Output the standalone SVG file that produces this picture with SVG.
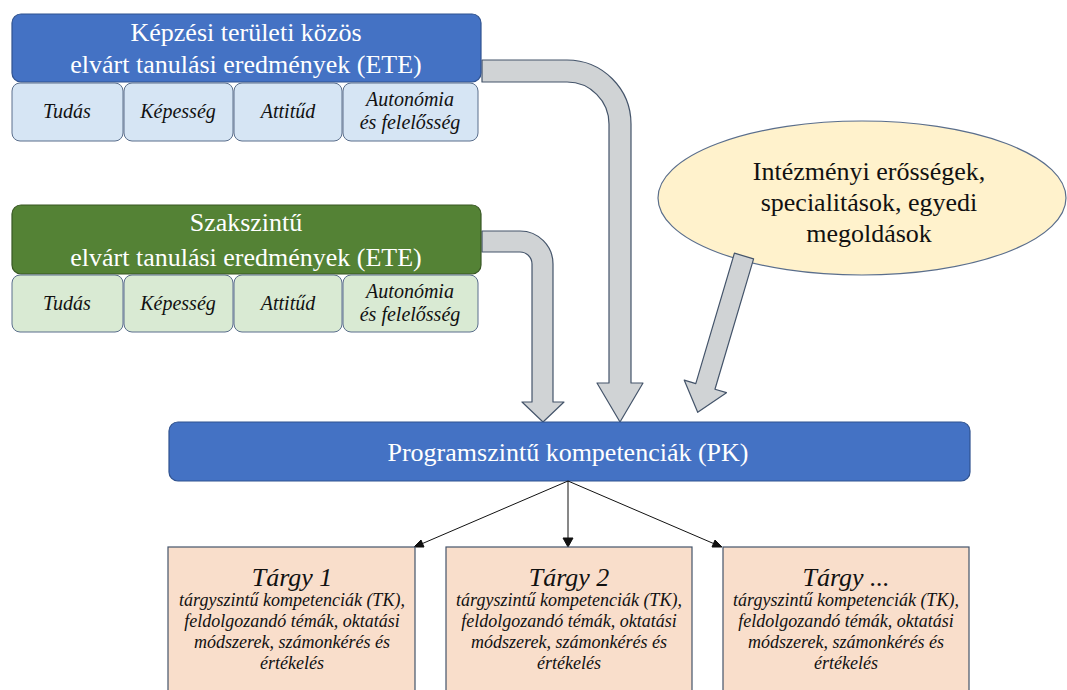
<svg xmlns="http://www.w3.org/2000/svg" width="1067" height="690" viewBox="0 0 1067 690">
  <rect width="1067" height="690" fill="#FFFFFF"/>

  <!-- broad grey flow arrows -->
  <g id="flows" fill="#D0D3D5" stroke="#44546A" stroke-width="1.2" stroke-linejoin="round">
    <path d="M482,60 H567 A64,64 0 0 1 631,124 V383 H643 L620,422 L597,383 H609 V124 A42,42 0 0 0 567,82 H482 Z"/>
    <path d="M482,231 H520 A33,33 0 0 1 553,264 V402 H564 L543,422 L522,402 H532 V264 A12,12 0 0 0 520,252 H482 Z"/>
  </g>

  <!-- training-area outcomes -->
  <g id="node-kepzesi">
    <rect x="12" y="14" width="469" height="68" rx="9" fill="#4472C4" stroke="#2F528F" stroke-width="1.2"/>
    <text x="246" y="41" font-family="Liberation Serif, DejaVu Serif, serif" font-size="26" fill="#FFFFFF" text-anchor="middle">Képzési területi közös</text>
    <text x="246" y="73" font-family="Liberation Serif, DejaVu Serif, serif" font-size="26" fill="#FFFFFF" text-anchor="middle">elvárt tanulási eredmények (ETE)</text>
  </g>
  <g id="node-kepzesi-items">
    <g fill="#D6E5F4" stroke="#5A6E8C" stroke-width="1">
      <rect x="12" y="83" width="111" height="58" rx="8"/>
      <rect x="124" y="83" width="109" height="58" rx="8"/>
      <rect x="234" y="83" width="108" height="58" rx="8"/>
      <rect x="343" y="83" width="135" height="58" rx="8"/>
    </g>
    <text x="67" y="118" font-family="Liberation Serif, DejaVu Serif, serif" font-style="italic" font-size="20" fill="#111" text-anchor="middle">Tudás</text>
    <text x="178" y="118" font-family="Liberation Serif, DejaVu Serif, serif" font-style="italic" font-size="20" fill="#111" text-anchor="middle">Képesség</text>
    <text x="288" y="118" font-family="Liberation Serif, DejaVu Serif, serif" font-style="italic" font-size="20" fill="#111" text-anchor="middle">Attitűd</text>
    <text x="410" y="106" font-family="Liberation Serif, DejaVu Serif, serif" font-style="italic" font-size="20" fill="#111" text-anchor="middle">Autonómia</text>
    <text x="410" y="129" font-family="Liberation Serif, DejaVu Serif, serif" font-style="italic" font-size="20" fill="#111" text-anchor="middle">és felelősség</text>
  </g>

  <!-- discipline-level outcomes -->
  <g id="node-szakszintu">
    <rect x="12" y="205" width="469" height="69" rx="9" fill="#548235" stroke="#385723" stroke-width="1.2"/>
    <text x="246" y="231" font-family="Liberation Serif, DejaVu Serif, serif" font-size="26" fill="#FFFFFF" text-anchor="middle">Szakszintű</text>
    <text x="246" y="266" font-family="Liberation Serif, DejaVu Serif, serif" font-size="26" fill="#FFFFFF" text-anchor="middle">elvárt tanulási eredmények (ETE)</text>
  </g>
  <g id="node-szakszintu-items">
    <g fill="#D9EAD3" stroke="#5A6E8C" stroke-width="1">
      <rect x="12" y="275" width="111" height="57" rx="8"/>
      <rect x="124" y="275" width="109" height="57" rx="8"/>
      <rect x="234" y="275" width="108" height="57" rx="8"/>
      <rect x="343" y="275" width="135" height="57" rx="8"/>
    </g>
    <text x="67" y="310" font-family="Liberation Serif, DejaVu Serif, serif" font-style="italic" font-size="20" fill="#111" text-anchor="middle">Tudás</text>
    <text x="178" y="310" font-family="Liberation Serif, DejaVu Serif, serif" font-style="italic" font-size="20" fill="#111" text-anchor="middle">Képesség</text>
    <text x="288" y="310" font-family="Liberation Serif, DejaVu Serif, serif" font-style="italic" font-size="20" fill="#111" text-anchor="middle">Attitűd</text>
    <text x="410" y="298" font-family="Liberation Serif, DejaVu Serif, serif" font-style="italic" font-size="20" fill="#111" text-anchor="middle">Autonómia</text>
    <text x="410" y="321" font-family="Liberation Serif, DejaVu Serif, serif" font-style="italic" font-size="20" fill="#111" text-anchor="middle">és felelősség</text>
  </g>

  <!-- institutional strengths -->
  <g id="node-intezmenyi">
    <ellipse cx="862" cy="198" rx="204" ry="77" fill="#FFF2CC" stroke="#5A6E8C" stroke-width="1.2"/>
    <text x="869" y="180" font-family="Liberation Serif, DejaVu Serif, serif" font-size="26" fill="#111" text-anchor="middle">Intézményi erősségek,</text>
    <text x="869" y="211" font-family="Liberation Serif, DejaVu Serif, serif" font-size="26" fill="#111" text-anchor="middle">specialitások, egyedi</text>
    <text x="869" y="242" font-family="Liberation Serif, DejaVu Serif, serif" font-size="26" fill="#111" text-anchor="middle">megoldások</text>
  </g>
  <g id="flow-intezmenyi">
    <path transform="translate(744,256) rotate(16.5)" d="M-10,0 H10 V136 H22 L0,163 L-22,136 H-10 Z" fill="#D0D3D5" stroke="#44546A" stroke-width="1.2" stroke-linejoin="round"/>
  </g>

  <!-- programme-level competences -->
  <g id="node-pk">
    <rect x="169" y="422" width="801" height="59" rx="9" fill="#4472C4" stroke="#2F528F" stroke-width="1.2"/>
    <text x="568" y="461" font-family="Liberation Serif, DejaVu Serif, serif" font-size="26" fill="#FFFFFF" text-anchor="middle">Programszintű kompetenciák (PK)</text>
  </g>

  <!-- thin connectors to subjects, heads drawn as small triangles -->
  <g id="connectors" stroke="#111" stroke-width="1" fill="#111">
    <line x1="568" y1="481" x2="419" y2="545"/>
    <polygon points="414,547 421,540 424,547"/>
    <line x1="568" y1="481" x2="568" y2="540"/>
    <polygon points="563,538 573,538 568,547"/>
    <line x1="568" y1="481" x2="717" y2="545"/>
    <polygon points="722,547 712,547 715,540"/>
  </g>

  <!-- subjects -->
  <g id="node-targy1">
    <rect x="168" y="547" width="247" height="160" fill="#F9DECB" stroke="#44546A" stroke-width="1.2"/>
    <text x="292" y="586" font-family="Liberation Serif, DejaVu Serif, serif" font-style="italic" font-size="26" fill="#111" text-anchor="middle">Tárgy 1</text>
    <text x="292" y="606" font-family="Liberation Serif, DejaVu Serif, serif" font-style="italic" font-size="18" fill="#111" text-anchor="middle">tárgyszintű kompetenciák (TK),</text>
    <text x="292" y="627" font-family="Liberation Serif, DejaVu Serif, serif" font-style="italic" font-size="18" fill="#111" text-anchor="middle">feldolgozandó témák, oktatási</text>
    <text x="292" y="648" font-family="Liberation Serif, DejaVu Serif, serif" font-style="italic" font-size="18" fill="#111" text-anchor="middle">módszerek, számonkérés és</text>
    <text x="292" y="669" font-family="Liberation Serif, DejaVu Serif, serif" font-style="italic" font-size="18" fill="#111" text-anchor="middle">értékelés</text>
  </g>
  <g id="node-targy2">
    <rect x="446" y="547" width="246" height="160" fill="#F9DECB" stroke="#44546A" stroke-width="1.2"/>
    <text x="569" y="586" font-family="Liberation Serif, DejaVu Serif, serif" font-style="italic" font-size="26" fill="#111" text-anchor="middle">Tárgy 2</text>
    <text x="569" y="606" font-family="Liberation Serif, DejaVu Serif, serif" font-style="italic" font-size="18" fill="#111" text-anchor="middle">tárgyszintű kompetenciák (TK),</text>
    <text x="569" y="627" font-family="Liberation Serif, DejaVu Serif, serif" font-style="italic" font-size="18" fill="#111" text-anchor="middle">feldolgozandó témák, oktatási</text>
    <text x="569" y="648" font-family="Liberation Serif, DejaVu Serif, serif" font-style="italic" font-size="18" fill="#111" text-anchor="middle">módszerek, számonkérés és</text>
    <text x="569" y="669" font-family="Liberation Serif, DejaVu Serif, serif" font-style="italic" font-size="18" fill="#111" text-anchor="middle">értékelés</text>
  </g>
  <g id="node-targy3">
    <rect x="723" y="547" width="246" height="160" fill="#F9DECB" stroke="#44546A" stroke-width="1.2"/>
    <text x="846" y="586" font-family="Liberation Serif, DejaVu Serif, serif" font-style="italic" font-size="26" fill="#111" text-anchor="middle">Tárgy ...</text>
    <text x="846" y="606" font-family="Liberation Serif, DejaVu Serif, serif" font-style="italic" font-size="18" fill="#111" text-anchor="middle">tárgyszintű kompetenciák (TK),</text>
    <text x="846" y="627" font-family="Liberation Serif, DejaVu Serif, serif" font-style="italic" font-size="18" fill="#111" text-anchor="middle">feldolgozandó témák, oktatási</text>
    <text x="846" y="648" font-family="Liberation Serif, DejaVu Serif, serif" font-style="italic" font-size="18" fill="#111" text-anchor="middle">módszerek, számonkérés és</text>
    <text x="846" y="669" font-family="Liberation Serif, DejaVu Serif, serif" font-style="italic" font-size="18" fill="#111" text-anchor="middle">értékelés</text>
  </g>
</svg>
